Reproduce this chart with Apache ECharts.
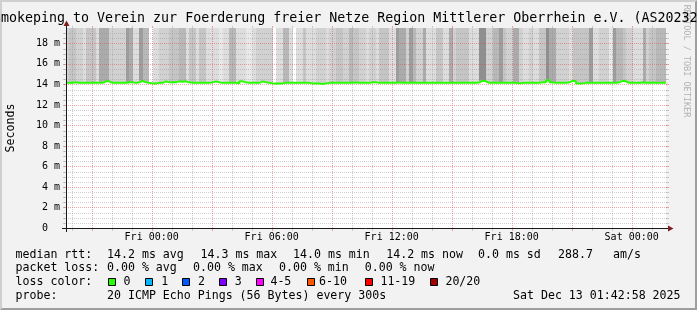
<!DOCTYPE html>
<html><head><meta charset="utf-8">
<script src="https://cdn.jsdelivr.net/npm/echarts@6/dist/echarts.min.js"></script>
<style>html,body{margin:0;padding:0;background:#f2f2f2;overflow:hidden}#c{width:697px;height:310px}</style>
</head><body><div id="c"></div>
<script>
// ---------------- data ----------------
const START_HOUR = 19 + 42 / 60 + 58 / 3600;   // hours since Thu 00:00 (Thu 19:42:58)
const END_HOUR = START_HOUR + 30;              // Sat 01:42:58
const BIN_HOURS = 10 / 60;                     // 10-minute buckets
const Y_MAX = 19.5;                            // ms

const xTickHours = [24, 30, 36, 42, 48];
const xTickLabels = ['Fri 00:00', 'Fri 06:00', 'Fri 12:00', 'Fri 18:00', 'Sat 00:00'];
const yTickValues = [0, 2, 4, 6, 8, 10, 12, 14, 16, 18];
const yTickLabels = ['0  ', '2 m', '4 m', '6 m', '8 m', '10 m', '12 m', '14 m', '16 m', '18 m'];

// smoke density per 10-minute bucket (0 = none, 8 = darkest)
const smokeLevel = [
  3,4,4,3,3,2,4,4,4,2,
  6,6,6,3,3,3,3,3,7,6,
  2,2,7,5,5,0,2,2,3,3,
  3,4,4,4,5,5,2,4,4,2,
  4,4,2,2,2,2,1,2,2,5,
  5,2,2,2,1,1,2,3,3,3,
  3,3,0,2,2,5,5,2,0,2,
  2,4,2,2,2,3,3,3,2,3,
  3,4,4,3,3,5,4,4,3,3,
  2,3,3,2,4,4,4,2,2,7,
  6,6,3,7,5,3,3,6,2,2,
  2,4,4,2,2,6,3,4,4,4,
  4,2,2,2,8,8,3,3,5,5,
  7,4,3,3,6,6,3,2,2,3,
  2,2,4,4,8,6,6,3,3,3,
  3,2,4,4,4,4,4,7,2,2,
  3,3,3,1,7,5,5,4,3,3,
  2,2,2,6,3,4,4,5,5,5
];

// median RTT (ms) per 10-minute bucket
const medianRtt = [
  14.15,14.15,14.2,14.15,14.15,14.15,14.15,14.15,14.15,14.15,
  14.15,14.3,14.3,14.15,14.15,14.15,14.15,14.15,14.2,14.2,
  14.15,14.2,14.35,14.2,14.15,14.1,14.1,14.15,14.15,14.3,
  14.2,14.2,14.2,14.3,14.25,14.3,14.2,14.15,14.15,14.15,
  14.15,14.15,14.15,14.2,14.3,14.2,14.15,14.15,14.15,14.15,
  14.15,14.1,14.3,14.2,14.15,14.15,14.15,14.15,14.3,14.2,
  14.15,14.1,14.1,14.1,14.1,14.15,14.15,14.15,14.15,14.15,
  14.15,14.15,14.15,14.1,14.1,14.1,14.05,14.1,14.15,14.15,
  14.15,14.15,14.15,14.15,14.15,14.15,14.2,14.15,14.15,14.15,
  14.15,14.2,14.2,14.15,14.15,14.15,14.15,14.15,14.15,14.2,
  14.15,14.15,14.15,14.15,14.15,14.15,14.15,14.15,14.15,14.15,
  14.15,14.15,14.15,14.15,14.15,14.15,14.15,14.15,14.15,14.15,
  14.15,14.15,14.15,14.2,14.35,14.3,14.15,14.15,14.15,14.15,
  14.15,14.15,14.15,14.15,14.15,14.1,14.15,14.15,14.15,14.15,
  14.15,14.15,14.2,14.2,14.4,14.2,14.15,14.15,14.15,14.15,
  14.2,14.35,14.3,14.1,14.1,14.15,14.15,14.15,14.15,14.15,
  14.15,14.15,14.15,14.15,14.15,14.2,14.35,14.3,14.15,14.15,
  14.15,14.15,14.2,14.15,14.15,14.15,14.15,14.15,14.15,14.15
];

const titleText = 'Smokeping to Verein zur Foerderung freier Netze Region Mittlerer Oberrhein e.V. (AS202329)';
const yAxisTitle = 'Seconds';
const watermark = 'RRDTOOL / TOBI OETIKER';
const rttRowLabel = 'median rtt:';
const rttStats = ['14.2 ms avg', '14.3 ms max', '14.0 ms min', '14.2 ms now', '0.0 ms sd', '288.7', 'am/s'];
const lossRowLabel = 'packet loss:';
const lossStats = ['0.00 % avg', '0.00 % max', '0.00 % min', '0.00 % now'];
const lossColorLabel = 'loss color:';
const lossLabels = ['0', '1', '2', '3', '4-5', '6-10', '11-19', '20/20'];
const probeLabel = 'probe:';
const probeText = '20 ICMP Echo Pings (56 Bytes) every 300s';
const dateText = 'Sat Dec 13 01:42:58 2025';

// ---------------- styles ----------------
const MONO = "'DejaVu Sans Mono', monospace";
const SMOKE_GREYS = ['#ffffff', '#e8e8e8', '#dddddd', '#d1d1d1', '#c5c5c5', '#b8b8b8', '#ababab', '#9d9d9d', '#8f8f8f'];
const LOSS_COLORS = ['#26ff00', '#00b8ff', '#0059ff', '#7e00ff', '#ff00ff', '#ff5500', '#ff0000', '#a10000'];
const GRID_MINOR = 'rgba(143,143,143,0.42)';
const GRID_MAJOR = 'rgba(222,79,79,0.5)';
const AXIS_COLOR = '#1a1a1a';
const ARROW_COLOR = '#801f1f';

const smokeData = smokeLevel.map((lv, i) => [START_HOUR + i * BIN_HOURS, START_HOUR + (i + 1) * BIN_HOURS, medianRtt[i], lv]);
const lineData = medianRtt.map((v, i) => [START_HOUR + i * BIN_HOURS, v]);
lineData.push([END_HOUR, medianRtt[medianRtt.length - 1]]);

const vGrid = [];
for (let h = Math.ceil(START_HOUR); h < END_HOUR; h++) vGrid.push([h, h % 3 === 0 ? 1 : 0]);
const hGrid = [];
for (let k = 0; k * 0.5 < Y_MAX; k++) hGrid.push([k * 0.5, k % 4 === 0 ? 1 : 0]);

const chart = echarts.init(document.getElementById('c'), null, { renderer: 'canvas', width: 697, height: 310 });

const option = {
  animation: false,
  backgroundColor: '#f2f2f2',
  grid: { left: 66, top: 28, width: 600, height: 200, show: true, backgroundColor: '#ffffff', borderWidth: 0 },
  xAxis: {
    type: 'value', min: START_HOUR, max: END_HOUR,
    axisLine: { show: false }, axisTick: { show: false }, splitLine: { show: false },
    axisLabel: {
      customValues: xTickHours, margin: 4, color: '#000', fontFamily: MONO, fontSize: 10,
      formatter: v => { const i = xTickHours.indexOf(Math.round(v)); return i >= 0 ? xTickLabels[i] : ''; }
    }
  },
  yAxis: {
    type: 'value', min: 0, max: Y_MAX,
    axisLine: { show: false }, axisTick: { show: false }, splitLine: { show: false },
    axisLabel: {
      customValues: yTickValues, margin: 6, color: '#000', fontFamily: MONO, fontSize: 10,
      formatter: v => { const i = yTickValues.indexOf(Math.round(v)); return i >= 0 ? yTickLabels[i] : ''; }
    }
  },
  series: [
    {
      type: 'custom', name: 'smoke', z: 2, clip: true,
      data: smokeData,
      renderItem: (params, api) => {
        const lv = api.value(3);
        if (!lv) return null;
        const p0 = api.coord([api.value(0), Y_MAX]);
        const p1 = api.coord([api.value(1), api.value(2)]);
        const x0 = Math.round(p0[0]), x1 = Math.round(p1[0]);
        return { type: 'rect', shape: { x: x0, y: p0[1], width: x1 - x0, height: p1[1] - p0[1] },
                 style: { fill: SMOKE_GREYS[lv] } };
      }
    },
    {
      type: 'custom', name: 'vgrid', z: 3, clip: false, silent: true,
      data: vGrid,
      renderItem: (params, api) => {
        const h = api.value(0);
        const c = api.value(1) ? GRID_MAJOR : GRID_MINOR;
        const top = api.coord([h, Y_MAX]), bot = api.coord([h, 0]);
        const x = Math.round(top[0]) + 0.5, yt = Math.round(top[1]), yb = Math.round(bot[1]);
        return { type: 'group', children: [
          { type: 'line', shape: { x1: x, y1: yb, x2: x, y2: yt }, style: { stroke: c, lineWidth: 1, lineDash: [1, 1] } },
          { type: 'line', shape: { x1: x, y1: yb, x2: x, y2: yb + 3 }, style: { stroke: c, lineWidth: 1 } },
          { type: 'line', shape: { x1: x, y1: yt - 2, x2: x, y2: yt }, style: { stroke: c, lineWidth: 1 } }
        ] };
      }
    },
    {
      type: 'custom', name: 'hgrid', z: 3, clip: false, silent: true,
      data: hGrid,
      renderItem: (params, api) => {
        const v = api.value(0);
        const c = api.value(1) ? GRID_MAJOR : GRID_MINOR;
        const l = api.coord([START_HOUR, v]), r = api.coord([END_HOUR, v]);
        const y = Math.round(l[1]) + 0.5, xl = Math.round(l[0]), xr = Math.round(r[0]);
        return { type: 'group', children: [
          { type: 'line', shape: { x1: xl - 2, y1: y, x2: xr + 2, y2: y }, style: { stroke: c, lineWidth: 1, lineDash: [1, 1] } },
          { type: 'line', shape: { x1: xl - 3, y1: y, x2: xl, y2: y }, style: { stroke: c, lineWidth: 1 } },
          { type: 'line', shape: { x1: xr, y1: y, x2: xr + 3, y2: y }, style: { stroke: c, lineWidth: 1 } }
        ] };
      }
    },
    {
      type: 'line', name: 'median rtt', z: 4, step: 'end', symbol: 'none', silent: true,
      data: lineData,
      lineStyle: { color: LOSS_COLORS[0], width: 2 }
    }
  ]
};
chart.setOption(option);

// ---------- frame, axes, texts ----------
const o = chart.convertToPixel({ gridIndex: 0 }, [START_HOUR, 0]);
const e = chart.convertToPixel({ gridIndex: 0 }, [END_HOUR, Y_MAX]);
const X0 = Math.round(o[0]), Y0 = Math.round(o[1]), X1 = Math.round(e[0]), Y1 = Math.round(e[1]);

const g = [];
g.push({ type: 'polygon', z: 100, shape: { points: [[0, 310], [2, 308], [2, 2], [695, 2], [697, 0], [0, 0]] }, style: { fill: '#cfcfcf' } });
g.push({ type: 'polygon', z: 100, shape: { points: [[2, 308], [695, 308], [695, 2], [697, 0], [697, 310], [0, 310]] }, style: { fill: '#9e9e9e' } });
g.push({ type: 'line', z: 100, shape: { x1: X0 - 4, y1: Y0 + 0.5, x2: X1 + 3, y2: Y0 + 0.5 }, style: { stroke: AXIS_COLOR, lineWidth: 1 } });
g.push({ type: 'line', z: 100, shape: { x1: X0 + 0.5, y1: Y0 + 4, x2: X0 + 0.5, y2: Y1 - 3 }, style: { stroke: AXIS_COLOR, lineWidth: 1 } });
g.push({ type: 'polygon', z: 101, shape: { points: [[X1 + 2, Y0 - 2.5], [X1 + 2, Y0 + 3.5], [X1 + 7.5, Y0 + 0.5]] }, style: { fill: ARROW_COLOR } });
g.push({ type: 'polygon', z: 101, shape: { points: [[X0 - 2.5, Y1 - 2], [X0 + 3.5, Y1 - 2], [X0 + 0.5, Y1 - 7.5]] }, style: { fill: ARROW_COLOR } });

const txt = (text, x, y, size, extra) => Object.assign({ type: 'text', z: 102, x, y,
  style: { text, font: size + 'px ' + MONO, fill: '#000', align: 'left', verticalAlign: 'middle' } }, extra || {});

g.push(txt(titleText, -7, 18.7, 13.3));
const yt = txt(yAxisTitle, 11, 128, 11.6, { rotation: Math.PI / 2 });
yt.style.align = 'center';
g.push(yt);
const wm = txt(watermark, 686.5, 61, 8.5, { rotation: -Math.PI / 2 });
wm.style.fill = 'rgba(0,0,0,0.28)'; wm.style.align = 'center';
g.push(wm);

const L1 = 254.5, L2 = 268.3, L3 = 282.2, L4 = 296;
const LS = 11.6;
g.push(txt(rttRowLabel, 15.5, L1, LS));
[107, 200.5, 293, 386.2, 478, 558, 613].forEach((x, i) => g.push(txt(rttStats[i], x, L1, LS)));
g.push(txt(lossRowLabel, 15.5, L2, LS));
[107, 193, 279, 364.7].forEach((x, i) => g.push(txt(lossStats[i], x, L2, LS)));
g.push(txt(lossColorLabel, 15.5, L3, LS));
const boxX = [108.5, 145.5, 182.5, 219.5, 256.5, 307.5, 365.5, 430.5];
const labX = [123.5, 161.2, 198, 234.7, 270.4, 319, 380.4, 445.4];
lossLabels.forEach((t, i) => {
  g.push({ type: 'rect', z: 102, shape: { x: boxX[i], y: 278.5, width: 7, height: 7 }, style: { fill: LOSS_COLORS[i], stroke: '#000', lineWidth: 1 } });
  g.push(txt(t, labX[i], L3, LS));
});
g.push(txt(probeLabel, 15.5, L4, LS));
g.push(txt(probeText, 107, L4, LS));
g.push(txt(dateText, 513, L4, LS));

chart.setOption({ graphic: { elements: g } });
</script></body></html>
